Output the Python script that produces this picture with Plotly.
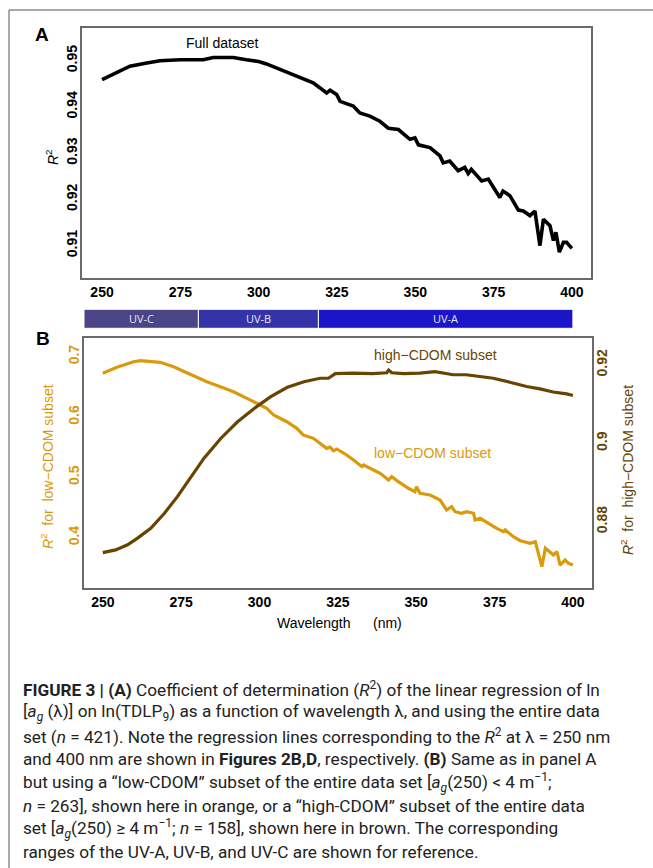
import plotly.graph_objects as go

W, H = 653, 868

# ---------------- data ----------------
full_wl = [250, 253.6, 258.9, 264.3, 268.5, 274.9, 280.2, 282.3, 285.5, 291.9, 296.1, 300, 302.5,
           305.7, 309.5, 313.2, 317.4, 319.6, 321.7, 322.8, 324.9, 326, 330.2, 332.3, 335.5, 338.7,
           341.4, 344.6, 348.3, 349.9, 351, 354.7, 357.9, 358.9, 361, 363.7, 365.8, 366.9, 367.9,
           371.2, 373.3, 377, 378, 380.2, 382.9, 384.5, 386.6, 388.2, 389.8, 390.9, 393, 394.1,
           394.9, 396, 397.3, 398.3, 400]
full_r2 = [0.9459, 0.9471, 0.9488, 0.9495, 0.9500, 0.9502, 0.9503, 0.9502, 0.9507, 0.9507, 0.9502,
           0.9498, 0.9493, 0.9484, 0.9473, 0.9463, 0.9452, 0.9441, 0.9430, 0.9436, 0.9427, 0.9412,
           0.9402, 0.9387, 0.9380, 0.9369, 0.9354, 0.9351, 0.9330, 0.9333, 0.9318, 0.9312, 0.9294,
           0.9279, 0.9283, 0.9262, 0.9269, 0.9256, 0.9265, 0.9240, 0.9244, 0.9204, 0.9218, 0.9208,
           0.9177, 0.9175, 0.9165, 0.9175, 0.9100, 0.9157, 0.9143, 0.9111, 0.9129, 0.9086, 0.9107,
           0.9107, 0.9094]

low_wl = [250, 254.5, 259.8, 262, 268.3, 272.6, 276.8, 281.1, 283.2, 287.5, 291.7, 296, 300.2,
          302.3, 304.5, 308.7, 311.9, 314, 317.2, 319.3, 321.4, 322.5, 323.6, 324.7, 326.3, 327.8,
          330, 332.7, 333.2, 335.3, 338.5, 341.2, 342.2, 344.3, 347.5, 349.6, 350.1, 351.2, 354.4,
          357.6, 359.7, 361.3, 362.4, 364.5, 366.1, 368.3, 368.8, 370.4, 372.5, 375.7, 377.8,
          378.4, 381, 383.2, 386.4, 388, 390.1, 391.2, 393.8, 394.9, 395.9, 397.5, 398.6, 400]
low_r2 = [0.6725, 0.6824, 0.6917, 0.6934, 0.6907, 0.6834, 0.6735, 0.6625, 0.6586, 0.6503, 0.6420,
          0.6310, 0.6199, 0.6144, 0.6033, 0.5922, 0.5813, 0.5702, 0.5647, 0.5564, 0.5481, 0.5500,
          0.5440, 0.5470, 0.5420, 0.5371, 0.5288, 0.5177, 0.5205, 0.5150, 0.5067, 0.4956, 0.5011,
          0.4928, 0.4819, 0.4763, 0.4845, 0.4735, 0.4708, 0.4625, 0.4459, 0.4514, 0.4431, 0.4404,
          0.4431, 0.4404, 0.4293, 0.4321, 0.4249, 0.4155, 0.4100, 0.4128, 0.4017, 0.3950, 0.3907,
          0.3934, 0.3519, 0.3824, 0.3713, 0.3768, 0.3547, 0.3630, 0.3575, 0.3547]

high_wl = [250, 254.1, 257.9, 261.1, 265.3, 269.6, 273.8, 278.1, 282.3, 287.7, 293, 298.3, 303.6,
           308.9, 314.2, 319.3, 322, 324.2, 330, 336, 340.6, 341.2, 342.2, 346, 351.2, 356, 361.8,
           366, 370.3, 374.6, 379.9, 385.2, 389.5, 393.7, 398, 400]
high_r2 = [0.8721, 0.8728, 0.8741, 0.8758, 0.8783, 0.8821, 0.8864, 0.8915, 0.8962, 0.9013, 0.9055,
           0.9089, 0.9119, 0.9143, 0.9157, 0.9166, 0.9166, 0.9178, 0.9179, 0.9178, 0.9180, 0.9187,
           0.9180, 0.9178, 0.9179, 0.9183, 0.9175, 0.9175, 0.9170, 0.9166, 0.9156, 0.9145, 0.9139,
           0.9131, 0.9126, 0.9122]

x_ticks = [250, 275, 300, 325, 350, 375, 400]
a_ticks = [0.91, 0.92, 0.93, 0.94, 0.95]
a_ticktext = ["0.91", "0.92", "0.93", "0.94", "0.95"]
low_ticks = [0.4, 0.5, 0.6, 0.7]
low_ticktext = ["0.4", "0.5", "0.6", "0.7"]
high_ticks = [0.88, 0.90, 0.92]
high_ticktext = ["0.88", "0.9", "0.92"]

band_names = ["UV-C", "UV-B", "UV-A"]
band_start = [244.0, 280.5, 318.8]
band_end = [280.5, 318.8, 400.0]
band_colors = ["#4B4487", "#3434A8", "#1A15C9"]

caption_lines = [
    "<b>FIGURE 3 | (A)</b> Coefficient of determination (<i>R</i><sup>2</sup>) of the linear regression of ln",
    "[<i>a<sub>g</sub></i> (λ)] on ln(TDLP<sub>9</sub>) as a function of wavelength λ, and using the entire data",
    "set (<i>n</i> = 421). Note the regression lines corresponding to the <i>R</i><sup>2</sup> at λ = 250 nm",
    "and 400 nm are shown in <b>Figures 2B,D</b>, respectively. <b>(B)</b> Same as in panel A",
    "but using a “low-CDOM” subset of the entire data set [<i>a<sub>g</sub></i>(250) &lt; 4 m<sup>−1</sup>;",
    "<i>n</i> = 263], shown here in orange, or a “high-CDOM” subset of the entire data",
    "set [<i>a<sub>g</sub></i>(250) ≥ 4 m<sup>−1</sup>; <i>n</i> = 158], shown here in brown. The corresponding",
    "ranges of the UV-A, UV-B, and UV-C are shown for reference.",
]

ORANGE = "#DB9A0C"
BROWN = "#674500"
BOXC = "#6a6a6a"
FONT = "Liberation Sans"


def px(x):
    return x / W


def py(y):
    return 1 - y / H


fig = go.Figure()
fig.add_trace(go.Scatter(x=full_wl, y=full_r2, mode="lines", line=dict(color="black", width=3.6),
                         xaxis="x", yaxis="y", showlegend=False))
fig.add_trace(go.Scatter(x=high_wl, y=high_r2, mode="lines", line=dict(color=BROWN, width=3.2),
                         xaxis="x2", yaxis="y3", showlegend=False))
fig.add_trace(go.Scatter(x=low_wl, y=low_r2, mode="lines", line=dict(color=ORANGE, width=3.2),
                         xaxis="x2", yaxis="y2", showlegend=False))

tickfont = dict(family=FONT, size=14, color="black", weight="bold")
axis_common = dict(showgrid=False, zeroline=False, showline=True, linecolor=BOXC, linewidth=1.6,
                   ticks="", mirror=True)

fig.update_layout(
    width=W, height=H, margin=dict(l=0, r=0, t=0, b=0),
    paper_bgcolor="white", plot_bgcolor="white",
    xaxis=dict(domain=[px(82.3), px(591)], range=[243.7, 406.1], tickvals=x_ticks,
               tickfont=tickfont, anchor="y", **axis_common),
    yaxis=dict(domain=[py(278), py(28.3)], range=[0.903, 0.957], tickvals=a_ticks,
               ticktext=a_ticktext, tickangle=-90, tickfont=tickfont, anchor="x",
               ticklabelstandoff=-2, **axis_common),
    xaxis2=dict(domain=[px(84), px(591.7)], range=[244.0, 406.0], tickvals=x_ticks,
                tickfont=tickfont, anchor="y2", **axis_common),
    yaxis2=dict(domain=[py(588.3), py(338.3)], range=[0.3161, 0.7305], tickvals=low_ticks,
                ticktext=low_ticktext, tickangle=-90, anchor="x2", ticklabelstandoff=-2,
                tickfont=dict(family=FONT, size=14, color=ORANGE, weight="bold"), **axis_common),
    yaxis3=dict(domain=[py(588.3), py(338.3)], range=[0.8630, 0.9268], tickvals=high_ticks,
                ticktext=high_ticktext, tickangle=-90, anchor="x2", overlaying="y2", side="right",
                tickfont=dict(family=FONT, size=14, color=BROWN, weight="bold"),
                showgrid=False, zeroline=False, showline=False, ticks=""),
)

shapes = []
# outer frame (top and left)
shapes.append(dict(type="line", xref="paper", yref="paper", x0=px(9), x1=1, y0=py(10), y1=py(10),
                   line=dict(color="#555555", width=1)))
shapes.append(dict(type="line", xref="paper", yref="paper", x0=px(9), x1=px(9), y0=py(10), y1=0,
                   line=dict(color="#555555", width=1)))
annotations = []
for name, s, e, c in zip(band_names, band_start, band_end, band_colors):
    shapes.append(dict(type="rect", xref="x2", yref="paper", x0=s, x1=e, y0=py(328.3), y1=py(309.3),
                       fillcolor=c, line=dict(color="white", width=1), layer="above"))
    annotations.append(dict(x=(s + e) / 2, y=py(318.8), xref="x2", yref="paper", text=name,
                            showarrow=False, font=dict(family="Open Sans", size=11, color="#E6E6F5"),
                            xanchor="center", yanchor="middle"))

annotations += [
    dict(x=px(42), y=py(35), text="<b>A</b>", font=dict(family=FONT, size=19, color="black")),
    dict(x=px(43), y=py(338), text="<b>B</b>", font=dict(family=FONT, size=19, color="black")),
    dict(x=px(221.7), y=py(43.3), text="Full dataset", font=dict(family=FONT, size=14, color="black")),
    dict(x=px(52), y=py(157), text="<i>R</i><sup>2</sup>", textangle=-90,
         font=dict(family=FONT, size=14, color="black")),
    dict(x=px(435), y=py(355), text="high−CDOM subset", font=dict(family=FONT, size=14, color=BROWN)),
    dict(x=px(432), y=py(453), text="low−CDOM subset", font=dict(family=FONT, size=14, color=ORANGE)),
    dict(x=px(47), y=py(467), text="<i>R</i><sup>2</sup>  for  low−CDOM subset", textangle=-90,
         font=dict(family=FONT, size=14, color=ORANGE)),
    dict(x=px(627), y=py(470), text="<i>R</i><sup>2</sup>  for  high−CDOM subset", textangle=-90,
         font=dict(family=FONT, size=14, color=BROWN)),
    dict(x=px(313.4), y=py(623), text="Wavelength", font=dict(family=FONT, size=14, color="black")),
    dict(x=px(387), y=py(623), text="(nm)", font=dict(family=FONT, size=14, color="black")),
]
for a in annotations[len(band_names):]:
    a.update(xref="paper", yref="paper", showarrow=False, xanchor="center", yanchor="middle")

for i, line in enumerate(caption_lines):
    annotations.append(dict(x=px(21), y=py(689 + 23.3 * i), xref="paper", yref="paper", text=line,
                            showarrow=False, xanchor="left", yanchor="middle", align="left",
                            font=dict(family="Roboto", size=17.2, color="#222222")))

fig.update_layout(shapes=shapes, annotations=annotations)
fig.write_html("out.html")
